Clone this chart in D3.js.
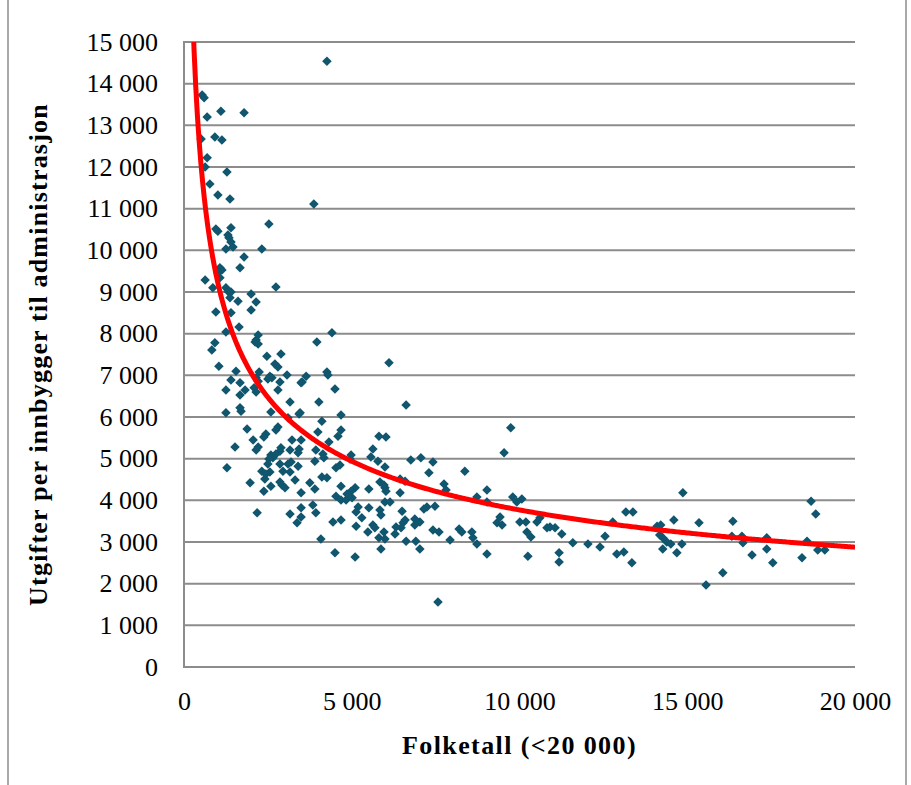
<!DOCTYPE html>
<html>
<head>
<meta charset="utf-8">
<script src="https://cdn.jsdelivr.net/npm/d3@7"></script>
<style>
  body { margin: 0; background: #fff; }
  svg { display: block; font-family: "Liberation Serif", "Times New Roman", serif; }
  .grid line { stroke: #8c8c8c; stroke-width: 2; }
</style>
</head>
<body>
<div id="chart"></div>
<script>
// Folketall (x) and utgifter per innbygger (y).
const population = [
  540, 600, 1100, 1790, 690, 510, 920, 1130, 690, 630, 1280, 770, 1010, 1370, 2530, 950, 1010, 1400, 1310, 1340,
  1400, 1460, 1250, 2320, 1790, 1070, 1130, 1670, 1010, 1070, 630, 860, 2740, 1250, 1310, 1400, 1370, 1610, 2000, 2150,
  950, 1400, 2000, 1640, 1250, 2210, 2150, 2120, 2210, 920, 830, 2470, 2890, 1040, 2710, 2800, 1550, 2240, 3070, 2560,
  2620, 2500, 2150, 2210, 1400, 1670, 2860, 3490, 1820, 1250, 2800, 2090, 2150, 1670, 3160, 1670, 1700, 1250, 2590, 3430,
  3100, 1880, 2800, 2740, 2060, 2440, 2380, 3220, 1520, 2210, 2150, 2890, 2860, 3160, 3430, 3400, 2590, 2650, 2530, 2740,
  3190, 3100, 3400, 2500, 2860, 1280, 2320, 2560, 2950, 3160, 2440, 2410, 1970, 2590, 2860, 2920, 3010, 3310, 2380, 3490,
  2180, 3160, 3490, 3490, 3370, 4260, 3870, 4410, 3960, 6110, 3640, 4260, 4290, 3520, 4500, 4020, 6620, 3460, 4680, 4110,
  4680, 4590, 3990, 3490, 5810, 6020, 4320, 3930, 4140, 5630, 5570, 4980, 4950, 4170, 5780, 6760, 3900, 5990, 4530, 4650,
  4110, 4260, 6440, 3750, 3900, 4680, 5100, 4980, 4860, 4530, 4680, 4830, 5010, 5510, 5840, 5960, 5990, 6020, 6440, 6590,
  3840, 5190, 5130, 5510, 5840, 5870, 5990, 6140, 6500, 3930, 4440, 4680, 5300, 5130, 5630, 5690, 6590, 6530, 6470, 6320,
  6290, 6880, 6880, 5480, 5810, 5960, 5990, 6620, 6910, 4080, 4500, 5100, 5870, 9740, 9540, 7060, 7420, 7300, 8370, 7750,
  7810, 9030, 8730, 9800, 10070, 9030, 9920, 7240, 7150, 7480, 7030, 7420, 7600, 8200, 8280, 8580, 8610, 8730, 7930, 7030,
  9030, 9420, 9330, 9480, 10010, 10190, 10520, 10610, 10820, 10910, 10220, 10340, 10250, 11180, 11180, 7570, 11060, 11260, 11590, 12040,
  12400, 12550, 12780, 12900, 13110, 13170, 13380, 13350, 14100, 14210, 14180, 14270, 14390, 14270, 14510, 14600, 14690, 14840, 14870, 15350,
  15560, 16060, 16360, 16330, 16630, 16660, 16930, 17370, 17370, 17550, 18420, 18570, 18690, 18830, 18890, 19100
];
const spending = [
  13730, 13660, 13340, 13300, 13200, 12670, 12720, 12650, 12220, 12000, 11880, 11590, 11330, 11230, 10630, 10510, 10460, 10540, 10370, 10300,
  10200, 10080, 10030, 10030, 9840, 9580, 9530, 9580, 9460, 9340, 9290, 9100, 9120, 9100, 9020, 9000, 8860, 8780, 8950, 8760,
  8520, 8500, 8570, 8160, 8040, 7970, 7850, 7800, 7750, 7780, 7610, 7460, 7510, 7220, 7270, 7200, 7100, 7080, 7010, 6980,
  6940, 6910, 6940, 6860, 6890, 6820, 6840, 6820, 6650, 6650, 6650, 6700, 6600, 6530, 6360, 6220, 6140, 6100, 6120, 6070,
  5980, 5710, 5760, 5690, 5450, 5590, 5520, 5450, 5280, 5280, 5210, 5260, 5180, 5210, 5230, 5140, 5090, 5020, 4990, 5110,
  4920, 4870, 4820, 4870, 4870, 4780, 4700, 4680, 4700, 4680, 4630, 4510, 4420, 4340, 4440, 4370, 4300, 4490, 4220, 4180,
  3700, 3670, 3820, 3600, 3460, 14540, 11110, 8020, 7800, 7300, 6980, 7080, 7010, 6840, 6670, 6360, 6290, 6100, 6050, 5900,
  5690, 5540, 5640, 5450, 5540, 5520, 5400, 5210, 5110, 5230, 5040, 5090, 4990, 5020, 4940, 4970, 4940, 4800, 4780, 4850,
  4560, 4540, 4510, 4420, 4270, 4340, 4300, 4220, 4150, 4100, 4010, 4010, 4060, 4270, 4440, 4370, 4300, 4220, 4180, 4460,
  3890, 3840, 3720, 3820, 3770, 3650, 3960, 3960, 3740, 3700, 3480, 3530, 3580, 3380, 3410, 3340, 3530, 3460, 3340, 3360,
  3190, 3550, 3410, 3240, 3100, 3240, 3070, 3020, 3020, 3070, 2740, 2640, 2830, 5740, 5140, 5020, 4920, 4660, 4700, 4390,
  4250, 4250, 4080, 4080, 4030, 3960, 3960, 3840, 3790, 3860, 3480, 3290, 3240, 3310, 3240, 3240, 3100, 2950, 3050, 2830,
  2710, 3600, 3460, 3410, 3480, 3480, 3480, 3580, 3340, 3360, 3240, 3120, 2660, 2740, 2520, 1560, 3340, 3190, 2980, 2950,
  2880, 3140, 3480, 2710, 2760, 3720, 3720, 2500, 3380, 3410, 3170, 3100, 3000, 2830, 2950, 3530, 2740, 2950, 4180, 3460,
  1970, 2260, 3500, 3140, 3140, 2980, 2690, 3100, 2830, 2500, 2620, 3020, 3980, 3670, 2810, 2810
];

// Power trendline shown in the chart (y = coef * x^exp).
const trendCoef = 136850;
const trendExp = -0.39;

const xTicks = [0, 5000, 10000, 15000, 20000];
const yTicks = d3.range(0, 15001, 1000);

const xTitle = 'Folketall (<20 000)';
const yTitle = 'Utgifter per innbygger til administrasjon';

const width = 911;
const height = 785;
const margin = {top: 42, right: 56, bottom: 117, left: 184};

// Norwegian style thousands: "15 000".
const label = t => d3.format(',')(t).replace(/,/g, ' ');

let svg = d3.select('#chart')
  .append('svg')
  .attr('width', width)
  .attr('height', height);

// Chart frame (left and right edges, the rest is cropped).
svg.append('g')
  .selectAll('line')
  .data([8, 906])
  .enter()
  .append('line')
    .attr('x1', d => d)
    .attr('x2', d => d)
    .attr('y1', 0)
    .attr('y2', height)
    .attr('stroke', '#8c8c8c')
    .attr('stroke-width', 1.5);

let x = d3.scaleLinear().domain([0, 20000]).range([margin.left, width - margin.right]);
let y = d3.scaleLinear().domain([0, 15000]).range([height - margin.bottom - 1, margin.top]);

// Horizontal gridlines.
svg.append('g')
  .attr('class', 'grid')
  .selectAll('line')
  .data(yTicks)
  .enter()
  .append('line')
    .attr('x1', x(0))
    .attr('x2', x(20000))
    .attr('y1', d => y(d))
    .attr('y2', d => y(d));

// Vertical axis line.
svg.append('line')
  .attr('x1', x(0))
  .attr('x2', x(0))
  .attr('y1', y(15000) - 1)
  .attr('y2', y(0) + 1)
  .attr('stroke', '#8c8c8c')
  .attr('stroke-width', 2);

let yAxis = d3.axisLeft(y)
  .tickValues(yTicks)
  .tickSize(0)
  .tickPadding(26)
  .tickFormat(label);

let xAxis = d3.axisBottom(x)
  .tickValues(xTicks)
  .tickSize(0)
  .tickPadding(25)
  .tickFormat(label);

svg.append('g')
  .attr('transform', `translate(${x(0)},0)`)
  .call(yAxis)
  .attr('font-family', null)
  .attr('font-size', 26)
  .call(g => g.select('.domain').remove())
  .selectAll('text')
    .attr('fill', '#000');

svg.append('g')
  .attr('transform', `translate(0,${y(0)})`)
  .call(xAxis)
  .attr('font-family', null)
  .attr('font-size', 26)
  .call(g => g.select('.domain').remove())
  .selectAll('text')
    .attr('fill', '#000');

// Points.
let pts = d3.range(population.length);
svg.append('g')
  .selectAll('path')
  .data(pts)
  .enter()
  .append('path')
    .attr('d', d3.symbol(d3.symbolDiamond2, 58))
    .attr('transform', i => `translate(${x(population[i])},${y(spending[i])})`)
    .attr('fill', '#0f566e');

svg.append('clipPath')
  .attr('id', 'plot')
  .append('rect')
    .attr('x', x(0))
    .attr('y', y(15000))
    .attr('width', x(20000) - x(0))
    .attr('height', y(0) - y(15000));

let trendX = d3.range(150, 20001, 50);
svg.append('path')
  .datum(trendX)
  .attr('clip-path', 'url(#plot)')
  .attr('fill', 'none')
  .attr('stroke', '#ff0000')
  .attr('stroke-width', 5)
  .attr('d', d3.line().x(d => x(d)).y(d => y(trendCoef * Math.pow(d, trendExp))));

// Axis titles.
svg.append('text')
  .attr('x', (x(0) + x(20000)) / 2)
  .attr('y', 754)
  .attr('text-anchor', 'middle')
  .style('font-size', '26px')
  .style('font-weight', 'bold')
  .style('letter-spacing', '1.4px')
  .text(xTitle);

svg.append('text')
  .attr('transform', `translate(47,${(y(0) + y(15000)) / 2}) rotate(-90)`)
  .attr('text-anchor', 'middle')
  .style('font-size', '26px')
  .style('font-weight', 'bold')
  .style('letter-spacing', '1.2px')
  .text(yTitle);
</script>
</body>
</html>
